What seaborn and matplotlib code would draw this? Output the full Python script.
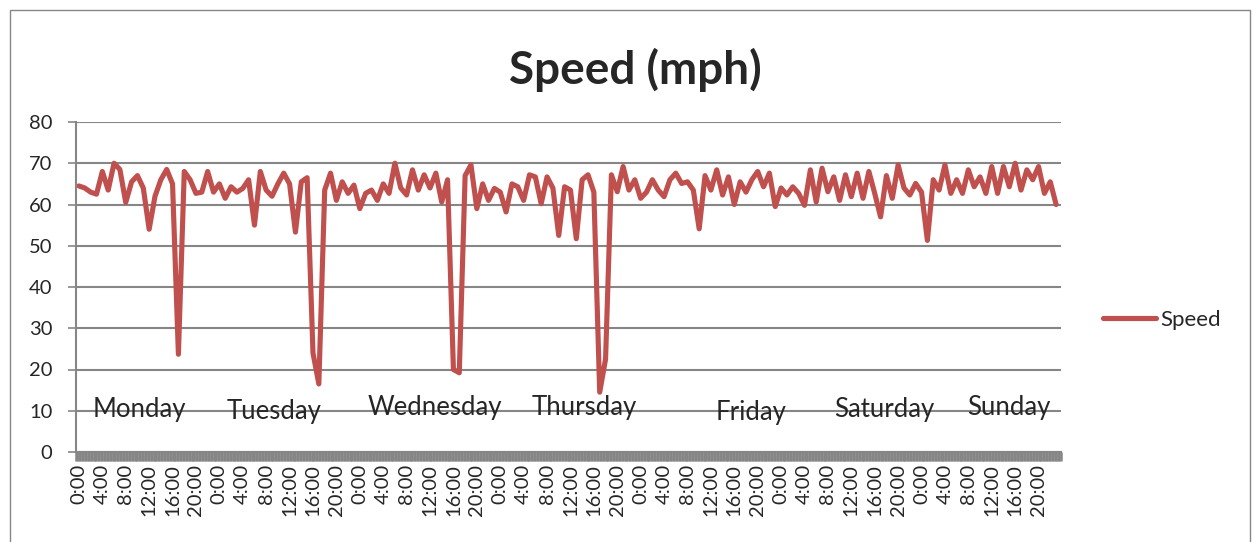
import matplotlib
matplotlib.use("Agg")
import matplotlib.pyplot as plt
from matplotlib.patches import Rectangle
import seaborn as sns
import pandas as pd
import numpy as np

# ---- data (hourly speed, mph) ----
monday = [64.5, 64, 63, 62.5, 68, 63.5, 70, 68.5, 60.5, 65.5, 67, 64,
          54, 62, 66, 68.5, 65, 23.7, 68, 66, 62.7, 63, 68, 63]
tuesday = [65, 61.5, 64.3, 63, 63.9, 66, 55, 68, 63.5, 62, 65, 67.6,
           65, 53.3, 65.5, 66.5, 24, 16.5, 63.5, 67.6, 61, 65.5, 62.7, 64.7]
wednesday = [59, 62.7, 63.5, 61, 65, 62.7, 70, 64, 62.3, 68.4, 63.5, 67.2,
             64, 67.6, 60.6, 66, 20, 19.2, 67, 69.6, 59, 65, 61, 63.9]
thursday = [63, 58.2, 65, 64.3, 61, 67.2, 66.7, 60.2, 66.7, 64, 52.5, 64.3,
            63.5, 51.7, 66, 67.2, 63, 14.5, 22.5, 67.2, 63.1, 69.2, 63.5, 66]
friday = [61.5, 63, 66, 63.5, 61.9, 66, 67.6, 65.1, 65.5, 63.5, 54.1, 67,
          63.5, 68.4, 62.3, 66.7, 60, 65.5, 63, 66, 68, 64.3, 67.6, 59.5]
saturday = [64, 62.3, 64.3, 62.7, 59.8, 68.4, 60.6, 68.8, 63.1, 66.7, 61, 67.2,
            61.9, 67.6, 61.5, 68, 62.7, 57, 67, 61.5, 69.6, 64, 62.3, 65.1]
sunday = [63, 51.3, 66, 63.5, 69.6, 62.7, 66, 62.7, 68.4, 64.3, 66.7, 62.7,
          69.2, 62.7, 69.2, 64.3, 70, 63.5, 68.4, 66, 69.2, 62.7, 65.5, 60]

day_names = ["Monday", "Tuesday", "Wednesday", "Thursday", "Friday", "Saturday", "Sunday"]
hour_labels = ["0:00", "4:00", "8:00", "12:00", "16:00", "20:00"]
series_name = "Speed"

speeds = monday + tuesday + wednesday + thursday + friday + saturday + sunday
df = pd.DataFrame({"t": np.arange(len(speeds)), series_name: speeds})

# ---- layout ----
W, H = 1256, 542
line_color = "#C0504D"
grid_color = "#868686"
font = "Lato"

sns.set_style("white")
plt.rcParams["font.family"] = [font, "DejaVu Sans"]

fig = plt.figure(figsize=(W / 100, H / 100), dpi=100)
ax = fig.add_axes([76 / W, 1 - 452 / H, (1060.5 - 76) / W, (452 - 122) / H])

sns.lineplot(data=df, x="t", y=series_name, ax=ax, color=line_color,
             linewidth=3.7, label=series_name)
for l in ax.get_lines():
    l.set_solid_joinstyle("round")
    l.set_solid_capstyle("round")

ax.set_xlim(-0.5, len(speeds) - 0.5)
ax.set_ylim(0, 80)
ax.set_yticks(range(0, 81, 10))
ax.yaxis.grid(True, color=grid_color, linewidth=1.5)
ax.set_axisbelow(True)

xt = np.arange(0, len(speeds), 4)
ax.set_xticks(xt)
ax.set_xticklabels([hour_labels[(h % 24) // 4] for h in xt], rotation=90, fontsize=14.5)
ax.set_xticks(np.arange(-0.5, len(speeds), 0.25), minor=True)
ax.tick_params(axis="x", which="both", length=6.5, width=1.8, color=grid_color,
               direction="out", bottom=True, pad=2)
ax.tick_params(axis="y", length=6, width=1.2, color=grid_color, direction="out",
               left=True, labelsize=14.5, pad=11)
for s in ["top", "right"]:
    ax.spines[s].set_visible(False)
for s in ["left", "bottom"]:
    ax.spines[s].set_color(grid_color)
    ax.spines[s].set_linewidth(1.5)
ax.set_xlabel("")
ax.set_ylabel("")

# day annotations (positions in hours / mph)
day_pos = [(10.3, 10.2), (33.3, 9.9), (60.9, 10.9), (86.4, 10.7),
           (114.9, 9.5), (137.6, 10.2), (158.9, 10.7)]
for name, (px, py) in zip(day_names, day_pos):
    ax.text(px, py, name, ha="center", va="center", fontsize=18.5)

fig.text(635 / W, 1 - 70 / H, "Speed (mph)", ha="center", va="center",
         fontsize=33, fontweight="bold")

ax.legend(loc="center left", bbox_to_anchor=(1103 / W, 1 - 320 / H),
          bbox_transform=fig.transFigure, frameon=False, fontsize=16,
          handlelength=2.4, handletextpad=0.2, borderpad=0, borderaxespad=0)

fig.add_artist(Rectangle((10 / W, -0.1), (1250 - 10) / W, 1 - 10 / H + 0.1,
                         transform=fig.transFigure, fill=False,
                         edgecolor=grid_color, linewidth=1))

fig.savefig("out.png", dpi=100, facecolor="white")
